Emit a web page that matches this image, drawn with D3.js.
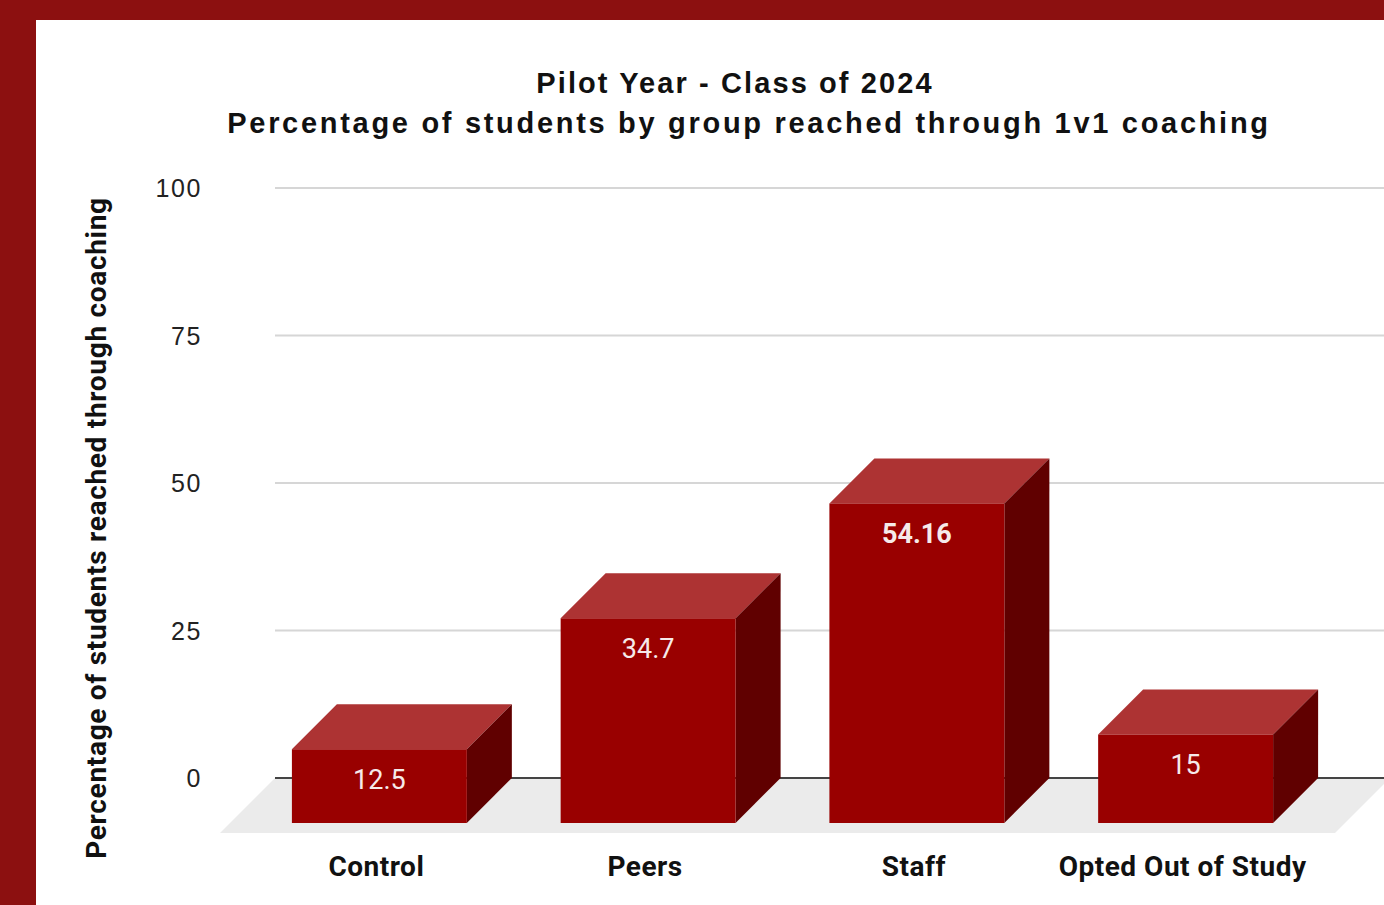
<!DOCTYPE html>
<html>
<head>
<meta charset="utf-8">
<script src="https://cdn.jsdelivr.net/npm/d3@7"></script>
<style>
  html, body { margin: 0; padding: 0; background: #8c1010; }
  svg { display: block; }
</style>
</head>
<body>
<svg id="chart" width="1384" height="905"></svg>
<script>
// Chart data
const categories = ["Control", "Peers", "Staff", "Opted Out of Study"];
const values = [12.5, 34.7, 54.16, 15];
const valueLabels = ["12.5", "34.7", "54.16", "15"];
const yTicks = [0, 25, 50, 75, 100];
const titleLines = [
  "Pilot Year - Class of 2024",
  "Percentage of students by group reached through 1v1 coaching"
];
const yAxisTitle = "Percentage of students reached through coaching";

const W = 1384, H = 905;
const svg = d3.select("#chart");

// Frame and panel
svg.append("rect").attr("x", 0).attr("y", 0).attr("width", W).attr("height", H).attr("fill", "#8c1010");
svg.append("rect").attr("x", 36).attr("y", 20).attr("width", W - 36).attr("height", H - 20).attr("fill", "#ffffff");

// 3D depth offset (back plane is shifted up-right from the front plane)
const depth = 45;

// Scales: y on the back plane, x for the front faces of the bars
const yBack = d3.scaleLinear().domain([0, 100]).range([778, 188]);
const x = d3.scaleBand().domain(categories).range([245, 1320])
  .paddingInner(0.349).paddingOuter(0.1745);

const plotLeftBack = 275;
const plotRightBack = 1390;

// Floor
const floorFront = yBack(0) + depth + 10;
svg.append("path")
  .attr("d", `M${plotLeftBack},${yBack(0)} L${plotRightBack},${yBack(0)} L${plotRightBack - (floorFront - yBack(0))},${floorFront} L${plotLeftBack - (floorFront - yBack(0))},${floorFront} Z`)
  .attr("fill", "#ebebeb");

// Gridlines
svg.append("g").selectAll("line").data(yTicks.filter(d => d !== 0)).join("line")
  .attr("x1", plotLeftBack).attr("x2", plotRightBack)
  .attr("y1", d => yBack(d)).attr("y2", d => yBack(d))
  .attr("stroke", "#d6d6d6").attr("stroke-width", 2);

// Baseline
svg.append("line")
  .attr("x1", plotLeftBack).attr("x2", plotRightBack)
  .attr("y1", yBack(0)).attr("y2", yBack(0))
  .attr("stroke", "#444").attr("stroke-width", 2);

// Tick labels
svg.append("g").selectAll("text").data(yTicks).join("text")
  .attr("x", 202).attr("y", d => yBack(d))
  .attr("dy", "0.36em")
  .attr("text-anchor", "end")
  .attr("font-family", "'Liberation Sans', Arial, sans-serif")
  .attr("font-size", 25)
  .attr("letter-spacing", 1.6)
  .attr("fill", "#222")
  .text(d => d);

// Bars
const bars = svg.append("g").selectAll("g").data(categories).join("g");
const frontBottom = yBack(0) + depth;
const hScale = v => yBack(0) - yBack(v);

bars.each(function(c, i) {
  const g = d3.select(this);
  const x0 = x(c), w = x.bandwidth();
  const yTop = frontBottom - hScale(values[i]);
  // top face
  g.append("path")
    .attr("d", `M${x0},${yTop} L${x0 + depth},${yTop - depth} L${x0 + w + depth},${yTop - depth} L${x0 + w},${yTop} Z`)
    .attr("fill", "#ad3333");
  // side face
  g.append("path")
    .attr("d", `M${x0 + w},${yTop} L${x0 + w + depth},${yTop - depth} L${x0 + w + depth},${frontBottom - depth} L${x0 + w},${frontBottom} Z`)
    .attr("fill", "#600000");
  // front face
  g.append("rect")
    .attr("x", x0).attr("y", yTop).attr("width", w).attr("height", frontBottom - yTop)
    .attr("fill", "#990000");
  // value label
  g.append("text")
    .attr("x", x0 + w / 2).attr("y", yTop + 30)
    .attr("dy", "0.36em")
    .attr("text-anchor", "middle")
    .attr("font-family", "Roboto, sans-serif")
    .attr("font-size", 27)
    .attr("font-weight", values[i] === d3.max(values) ? 700 : 400)
    .attr("fill", "#f6eaea")
    .text(valueLabels[i]);
});

// Category labels
svg.append("g").selectAll("text").data(categories).join("text")
  .attr("x", d => x(d) + x.bandwidth() / 2 - 3)
  .attr("y", 866)
  .attr("dy", "0.36em")
  .attr("text-anchor", "middle")
  .attr("font-family", "Roboto, sans-serif")
  .attr("font-weight", 700)
  .attr("font-size", 28)
  .attr("letter-spacing", 0.5)
  .attr("fill", "#111")
  .text(d => d);

// Title
svg.append("g").selectAll("text").data(titleLines).join("text")
  .attr("x", (d, i) => i === 0 ? 735 : 749)
  .attr("y", (d, i) => 83 + i * 40)
  .attr("dy", "0.36em")
  .attr("text-anchor", "middle")
  .attr("font-family", "'Liberation Sans', Arial, sans-serif")
  .attr("font-weight", 700)
  .attr("font-size", 29)
  .attr("letter-spacing", (d, i) => i === 0 ? 2.1 : 2.7)
  .attr("fill", "#111")
  .text(d => d);

// Y axis title
svg.append("text")
  .attr("transform", `translate(96,528) rotate(-90)`)
  .attr("dy", "0.36em")
  .attr("text-anchor", "middle")
  .attr("font-family", "Roboto, sans-serif")
  .attr("font-weight", 700)
  .attr("font-size", 28)
  .attr("letter-spacing", 0.7)
  .attr("fill", "#111")
  .text(yAxisTitle);
</script>
</body>
</html>
